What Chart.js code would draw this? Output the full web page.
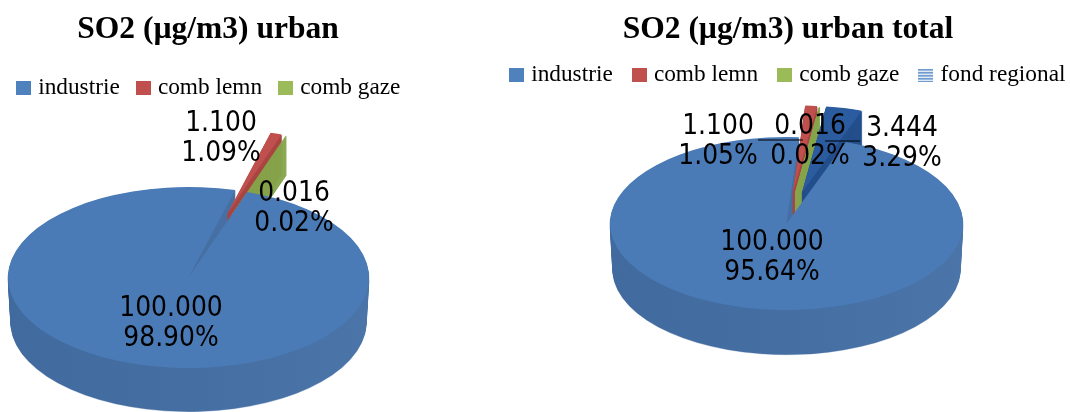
<!DOCTYPE html>
<html><head><meta charset="utf-8">
<style>html,body{margin:0;padding:0;background:#fff;overflow:hidden;width:1070px;height:412px}
canvas{position:absolute;top:0}</style>
<script src="https://cdn.jsdelivr.net/npm/chart.js@4"></script></head><body>
<canvas id="a" width="500" height="412" style="left:-42px"></canvas>
<canvas id="b" width="700" height="412" style="left:438px"></canvas>
<script>
const titleA = 'SO2 (µg/m3) urban';
const titleB = 'SO2 (µg/m3) urban total';
const labelsA = ['industrie','comb lemn','comb gaze'];
const labelsB = ['industrie','comb lemn','comb gaze','fond regional'];
const valuesA = [100.000,1.100,0.016];
const valuesB = [100.000,1.100,0.016,3.444];
const topColors = ['#4A7BB6','#C0504D','#9BBB59','#2B5C9F'];
const wallColors = ['#44699B','#A84542','#86A54B','#234E8C'];
const swatchColors = ['#4F81BD','#C0504D','#9BBB59'];

function swatch(color){
  const c=document.createElement('canvas');c.width=15;c.height=14;
  const g=c.getContext('2d');g.fillStyle=color;g.fillRect(0,0,15,14);return c;
}
function stripes(){
  const c=document.createElement('canvas');c.width=15;c.height=14;
  const g=c.getContext('2d');g.fillStyle='#dfe8f3';g.fillRect(0,1,15,13);
  g.fillStyle='#6f9bd0';for(let y=1;y<14;y+=3)g.fillRect(0,y,15,1.6);return c;
}
const pie3d={
  id:'pie3d',
  afterLayout(chart,_,o){
    chart.legend.left+=o.legendShift;chart.legend.right+=o.legendShift;
  },
  beforeDatasetsDraw(chart,_,o){
    const ctx=chart.ctx, arcs=chart.getDatasetMeta(0).data;
    const sq=o.ry/o.rx, ax=arcs[0].x, ay=arcs[0].y, X=o.cx-o.left;
    const place=(d,k)=>{ctx.translate(X,o.cy+d);ctx.scale(k,sq*k);ctx.translate(-ax,-ay);};
    const dir=i=>{const m=(arcs[i].startAngle+arcs[i].endAngle)/2;
      return [Math.cos(m)*o.explode[i],Math.sin(m)*o.explode[i]];};
    arcs.forEach((el,i)=>{
      if(el._wrapped)return; el._wrapped=true;
      const orig=el.draw;
      el.draw=function(c){
        c.save();const[v,w]=dir(i);c.translate(v+ax,w+ay);
        const f=i===0?1:o.shrink;c.scale(f,f);c.translate(-ax,-ay);
        orig.call(this,c);c.restore();};
    });
    arcs.forEach((el,i)=>{
      const [v,w]=dir(i);
      const depth=i===0?o.depth:o.sliceDepth;
      const R=el.outerRadius*(i===0?1:o.shrink);
      for(let d=depth;d>=1;d--){
        ctx.save();place(d,i===0?1-o.taper*d/depth:1);
        let fill=wallColors[i];
        if(i===0){
          const g=ctx.createLinearGradient(ax-o.rx,0,ax+o.rx,0);
          g.addColorStop(0,'#416A9E');g.addColorStop(.5,'#456FA2');g.addColorStop(1,'#4B75A8');
          fill=g;
        }
        ctx.fillStyle=fill;ctx.strokeStyle=fill;ctx.lineWidth=i===0?0.5:1;
        ctx.beginPath();ctx.moveTo(ax+v,ay+w);
        ctx.arc(ax+v,ay+w,R,el.startAngle,el.endAngle);
        ctx.closePath();ctx.fill();ctx.stroke();
        ctx.restore();
      }
    });
    ctx.save();place(0,1);
  },
  afterDatasetsDraw(chart,_,o){
    const ctx=chart.ctx;ctx.restore();
    const X=o.cx-o.left, ds=chart.data.datasets[0].data;
    const total=ds.reduce((a,b)=>a+b,0);
    ctx.save();
    ctx.strokeStyle='#000';ctx.lineWidth=1;
    (o.leaders||[]).forEach(l=>{ctx.beginPath();ctx.moveTo(X+l[0],o.cy+l[2]+.5);ctx.lineTo(X+l[1],o.cy+l[2]+.5);ctx.stroke();});
    ctx.fillStyle='#000';ctx.textAlign='center';ctx.textBaseline='middle';
    ctx.font='27.5px "DejaVu Sans"';
    const put=(t,x,y)=>{ctx.save();ctx.translate(x,y);ctx.scale(.91,1);ctx.fillText(t,0,0);ctx.restore();};
    ds.forEach((v,i)=>{
      const s=o.spots[i];
      put(v.toFixed(3),X+s[0],o.cy+s[1]+2);
      put((v/total*100).toFixed(2)+'%',X+s[0],o.cy+s[1]+32);
    });
    ctx.restore();
  }
};
function build(id,title,labels,values,cfg,titleBottom,labelPad,boxW,rotation,radius){
  const items=labels.map((t,i)=>({text:t,fillStyle:'#000',strokeStyle:'transparent',lineWidth:0,
    pointStyle:i===3?stripes():swatch(swatchColors[i]),index:i,hidden:false,fontColor:'#000'}));
  return new Chart(document.getElementById(id),{
    type:'pie',
    data:{labels,datasets:[{data:values,backgroundColor:topColors.slice(0,values.length),borderWidth:0,clip:false,radius}]},
    options:{responsive:false,animation:false,rotation,
      plugins:{
        tooltip:{enabled:false},
        title:{display:true,text:title,color:'#000',font:{family:'"Liberation Serif"',size:31.5,weight:'bold'},padding:{top:11,bottom:titleBottom}},
        legend:{position:'top',labels:{font:{family:'"Liberation Serif"',size:23.3},color:'#000',padding:labelPad,
          boxWidth:boxW,boxHeight:14,usePointStyle:true,generateLabels:()=>items}},
        pie3d:cfg
      }},
    plugins:[pie3d]
  });
}
build('a',titleA,labelsA,valuesA,{left:-42,cx:188.5,cy:277.5,rx:180.5,ry:90.5,depth:45,sliceDepth:40,taper:.015,shrink:.92,legendShift:2.5,
  explode:[0,134,134],spots:[[-17.5,29.5],[32.5,-155.5],[105.5,-85.5]]},6.8,20.5,6,19,180.5);
build('b',titleB,labelsB,valuesB,{left:438,cx:786.5,cy:223.5,rx:176.5,ry:86.5,depth:46,sliceDepth:45,taper:.015,shrink:1,legendShift:1.5,
  explode:[0,65,65,66],spots:[[-14.5,17.5],[-68.5,-98.5],[23.5,-98.5],[115.5,-96.5]],
  leaders:[[-28.5,16.5,-84],[38.5,73.5,-83]]},-9,23.5,6,19.7,176.5);
</script></body></html>
